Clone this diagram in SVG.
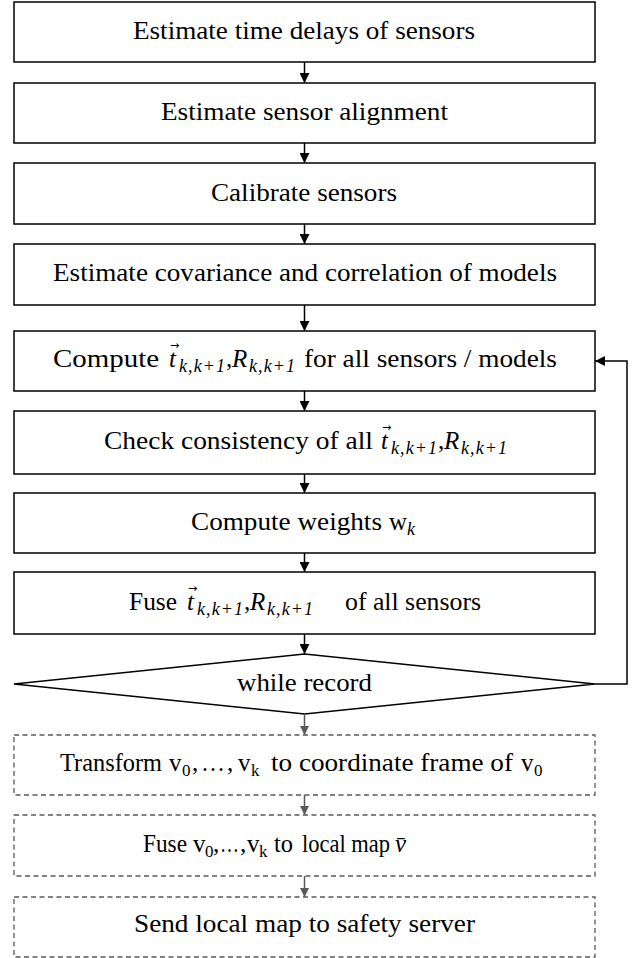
<svg xmlns="http://www.w3.org/2000/svg" width="638" height="958" viewBox="0 0 638 958">
<defs>
<style>
.box{fill:#fff;stroke:#000;stroke-width:1.5}
.dbox{fill:#fff;stroke:#595959;stroke-width:1.3;stroke-dasharray:5 3.5}
.lbl{font-family:Liberation Serif,serif;font-size:25px;fill:#000}
.m{font-style:italic}
.s{font-style:italic;font-size:18px}
.su{font-size:17px}
.vec{font-family:DejaVu Sans,sans-serif;font-size:11px;fill:#000}
.c{stroke:#000;stroke-width:1.5;fill:none}
.g{stroke:#595959;stroke-width:1.5;fill:none}
</style>
<marker id="ah" markerUnits="userSpaceOnUse" markerWidth="10" markerHeight="10" refX="10" refY="5" orient="auto"><path d="M0,0 L10,5 L0,10 z" fill="#000"/></marker>
<marker id="ahg" markerUnits="userSpaceOnUse" markerWidth="9" markerHeight="9" refX="9" refY="4.5" orient="auto"><path d="M0,0 L9,4.5 L0,9 z" fill="#595959"/></marker>
</defs>

<g id="n1"><rect class="box" x="14" y="2" width="581" height="60"/><text class="lbl" x="133" y="39" textLength="342" lengthAdjust="spacingAndGlyphs">Estimate time delays of sensors</text></g>
<g id="n2"><rect class="box" x="14" y="83" width="581" height="60"/><text class="lbl" x="161" y="120" textLength="287" lengthAdjust="spacingAndGlyphs">Estimate sensor alignment</text></g>
<g id="n3"><rect class="box" x="14" y="163" width="581" height="61"/><text class="lbl" x="211" y="201" textLength="186" lengthAdjust="spacingAndGlyphs">Calibrate sensors</text></g>
<g id="n4"><rect class="box" x="14" y="244" width="581" height="61"/><text class="lbl" x="53" y="281" textLength="504" lengthAdjust="spacingAndGlyphs">Estimate covariance and correlation of models</text></g>
<g id="n5"><rect class="box" x="14" y="331" width="581" height="60"/>
<text class="lbl" y="367"><tspan x="53" textLength="106" lengthAdjust="spacingAndGlyphs">Compute</tspan><tspan class="m" x="169">t</tspan><tspan class="s" x="179" dy="5" textLength="46">k,k+1</tspan><tspan x="226" dy="-5">,</tspan><tspan class="m" x="232">R</tspan><tspan class="s" x="249" dy="5" textLength="46">k,k+1</tspan><tspan x="304" dy="-5" textLength="253" lengthAdjust="spacingAndGlyphs">for all sensors / models</tspan></text>
<text class="vec" x="170" y="349">→</text></g>
<g id="n6"><rect class="box" x="14" y="411" width="581" height="63"/>
<text class="lbl" y="449"><tspan x="104" textLength="269" lengthAdjust="spacingAndGlyphs">Check consistency of all</tspan><tspan class="m" x="381">t</tspan><tspan class="s" x="391" dy="5" textLength="46">k,k+1</tspan><tspan x="438" dy="-5">,</tspan><tspan class="m" x="444">R</tspan><tspan class="s" x="461" dy="5" textLength="46">k,k+1</tspan></text>
<text class="vec" x="382" y="431">→</text></g>
<g id="n7"><rect class="box" x="14" y="493" width="581" height="60"/>
<text class="lbl" y="530"><tspan x="191" textLength="191" lengthAdjust="spacingAndGlyphs">Compute weights</tspan><tspan x="389">w</tspan><tspan class="s" x="407" dy="5">k</tspan></text></g>
<g id="n8"><rect class="box" x="14" y="572" width="581" height="62"/>
<text class="lbl" y="610"><tspan x="129" textLength="48" lengthAdjust="spacingAndGlyphs">Fuse</tspan><tspan class="m" x="187">t</tspan><tspan class="s" x="197" dy="5" textLength="46">k,k+1</tspan><tspan x="244" dy="-5">,</tspan><tspan class="m" x="250">R</tspan><tspan class="s" x="267" dy="5" textLength="46">k,k+1</tspan><tspan x="345" dy="-5" textLength="136" lengthAdjust="spacingAndGlyphs">of all sensors</tspan></text>
<text class="vec" x="188" y="592">→</text></g>
<g id="n9"><polygon class="box" points="14,684 304.5,654 595,684 304.5,714"/><text class="lbl" x="237" y="691" textLength="135" lengthAdjust="spacingAndGlyphs">while record</text></g>
<g id="n10"><rect class="dbox" x="14" y="735" width="581" height="60"/>
<text class="lbl" y="771"><tspan x="60" textLength="102" lengthAdjust="spacingAndGlyphs">Transform</tspan><tspan x="169">v</tspan><tspan class="su" x="182" dy="5">0</tspan><tspan x="192" dy="-5">,</tspan><tspan x="201" textLength="24" lengthAdjust="spacingAndGlyphs">…</tspan><tspan x="227">,</tspan><tspan x="238">v</tspan><tspan class="su" x="251" dy="5">k</tspan><tspan x="271" dy="-5" textLength="242" lengthAdjust="spacingAndGlyphs">to coordinate frame of</tspan><tspan x="521">v</tspan><tspan class="su" x="534" dy="5">0</tspan></text></g>
<g id="n11"><rect class="dbox" x="14" y="815" width="581" height="61"/>
<text class="lbl" y="852" font-size="24"><tspan x="143" textLength="44" lengthAdjust="spacingAndGlyphs">Fuse</tspan><tspan x="193">v</tspan><tspan class="su" x="205" dy="5" font-size="16">0</tspan><tspan x="213" dy="-5">,</tspan><tspan x="220" textLength="19" lengthAdjust="spacingAndGlyphs">…</tspan><tspan x="240">,</tspan><tspan x="247">v</tspan><tspan class="su" x="259" dy="5" font-size="16">k</tspan><tspan x="274" dy="-5" textLength="19" lengthAdjust="spacingAndGlyphs">to</tspan><tspan x="302" textLength="88" lengthAdjust="spacingAndGlyphs">local map</tspan><tspan class="m" x="395">v&#x0304;</tspan></text></g>
<g id="n12"><rect class="dbox" x="14" y="897" width="581" height="60"/><text class="lbl" x="134" y="932" textLength="341" lengthAdjust="spacingAndGlyphs">Send local map to safety server</text></g>

<g id="connectors">
<line class="c" x1="304.5" y1="62" x2="304.5" y2="83" marker-end="url(#ah)"/>
<line class="c" x1="304.5" y1="143" x2="304.5" y2="163" marker-end="url(#ah)"/>
<line class="c" x1="304.5" y1="224" x2="304.5" y2="244" marker-end="url(#ah)"/>
<line class="c" x1="304.5" y1="305" x2="304.5" y2="331" marker-end="url(#ah)"/>
<line class="c" x1="304.5" y1="391" x2="304.5" y2="411" marker-end="url(#ah)"/>
<line class="c" x1="304.5" y1="474" x2="304.5" y2="493" marker-end="url(#ah)"/>
<line class="c" x1="304.5" y1="553" x2="304.5" y2="572" marker-end="url(#ah)"/>
<line class="c" x1="304.5" y1="634" x2="304.5" y2="654" marker-end="url(#ah)"/>
<polyline class="c" points="595,684 627,684 627,361 595,361" marker-end="url(#ah)"/>
<line class="g" x1="304.5" y1="714" x2="304.5" y2="735" marker-end="url(#ahg)"/>
<line class="g" x1="304.5" y1="795" x2="304.5" y2="815" marker-end="url(#ahg)"/>
<line class="g" x1="304.5" y1="876" x2="304.5" y2="897" marker-end="url(#ahg)"/>
</g>
</svg>
